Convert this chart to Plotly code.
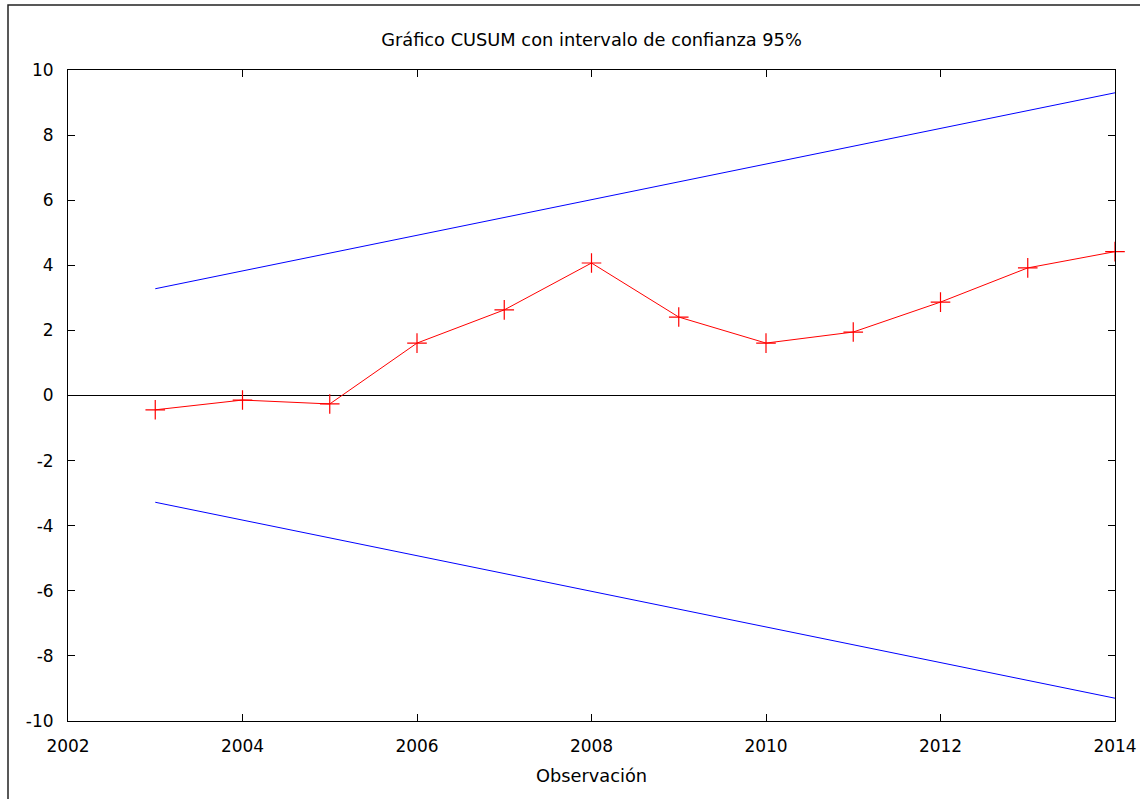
import plotly.graph_objects as go

years = [2003, 2004, 2005, 2006, 2007, 2008, 2009, 2010, 2011, 2012, 2013, 2014]
cusum = [-0.44, -0.14, -0.26, 1.61, 2.63, 4.07, 2.41, 1.61, 1.95, 2.87, 3.92, 4.42]
band_x = [2003, 2014]
band_upper = [3.28, 9.30]
band_lower = [-3.28, -9.30]
x_ticks = [2002, 2004, 2006, 2008, 2010, 2012, 2014]
y_ticks = [-10, -8, -6, -4, -2, 0, 2, 4, 6, 8, 10]

W, H = 1140, 799
L, R, T, B = 68, 25, 70, 78
FONT = "DejaVu Sans"
FS = 17
FS_TITLE = 17.8

fig = go.Figure()
fig.add_trace(go.Scatter(x=[2002, 2014], y=[0, 0], mode="lines",
                         line=dict(color="black", width=1), showlegend=False, hoverinfo="skip"))
fig.add_trace(go.Scatter(x=band_x, y=band_upper, mode="lines",
                         line=dict(color="#0000ff", width=1), showlegend=False))
fig.add_trace(go.Scatter(x=band_x, y=band_lower, mode="lines",
                         line=dict(color="#0000ff", width=1), showlegend=False))
fig.add_trace(go.Scatter(x=years, y=cusum, mode="lines+markers",
                         line=dict(color="#ff0000", width=1),
                         marker=dict(symbol="cross-thin", size=14, color="#ff0000",
                                     line=dict(color="#ff0000", width=1.2)),
                         showlegend=False, cliponaxis=False))

pw = W - L - R
ph = H - T - B
# outer frame (left/top visible, right/bottom beyond the canvas)
fig.add_shape(type="rect", xref="paper", yref="paper",
              x0=(8 - L) / pw, x1=(W + 20 - L) / pw,
              y0=-(B + 20) / ph, y1=1 + (T - 5) / ph,
              line=dict(color="#222222", width=1.5), layer="above")

axis_common = dict(showgrid=False, zeroline=False, showline=True, linecolor="black",
                   linewidth=1, mirror="ticks", ticks="inside", ticklen=7,
                   tickcolor="black", tickwidth=1, automargin=False,
                   tickfont=dict(family=FONT, size=FS, color="black"))

fig.update_xaxes(range=[2002, 2014], tickvals=x_ticks, ticktext=[str(v) for v in x_ticks],
                 ticklabelstandoff=10,
                 title=dict(text="Observación", font=dict(family=FONT, size=FS_TITLE, color="black"),
                            standoff=14),
                 **axis_common)
fig.update_yaxes(range=[-10, 10], tickvals=y_ticks, ticktext=[str(v) for v in y_ticks],
                 ticklabelstandoff=10,
                 **axis_common)

fig.update_layout(
    width=W, height=H,
    margin=dict(l=L, r=R, t=T, b=B, pad=0, autoexpand=False),
    paper_bgcolor="white", plot_bgcolor="white",
    title=dict(text="Gráfico CUSUM con intervalo de confianza 95%",
               font=dict(family=FONT, size=FS_TITLE, color="black"),
               xref="paper", x=0.5, xanchor="center", y=1 - 40 / H, yanchor="middle"),
    font=dict(family=FONT, size=FS, color="black"),
)

fig.write_html("out.html", config={"displayModeBar": False})
with open("out.html", "r", encoding="utf-8") as f:
    html = f.read()
html = html.replace("<head>", "<head><style>html,body{margin:0;padding:0;overflow:hidden;}</style>", 1)
with open("out.html", "w", encoding="utf-8") as f:
    f.write(html)
